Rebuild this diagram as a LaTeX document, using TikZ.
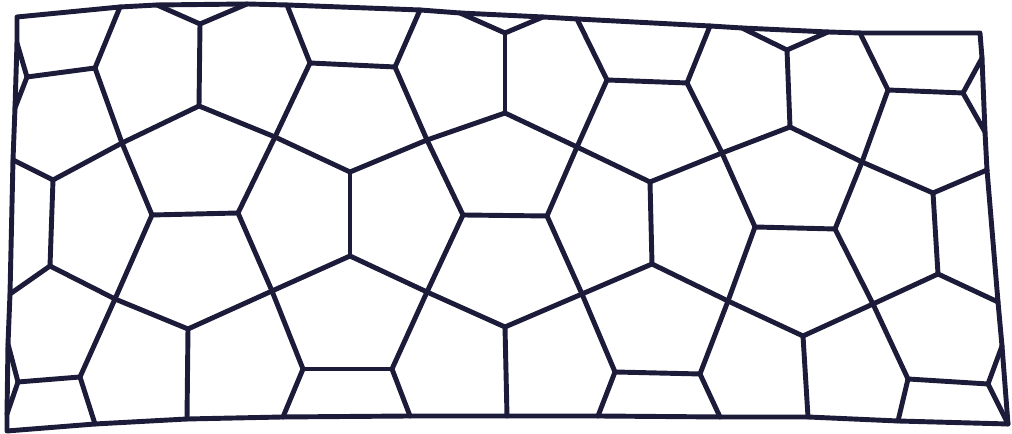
\documentclass[tikz,border=0pt]{standalone}
\usepackage{tikz}

\definecolor{ink}{RGB}{28,28,58}
\tikzset{edge/.style={ink,line width=1.4pt,line cap=round,line join=round}}

\begin{document}
\begin{tikzpicture}[x=0.1mm,y=-0.1mm]
\useasboundingbox (0,0) rectangle (1012,434);

% frame points
\foreach \n/\x/\y in {F1/17/17,t1/120/7,t2/157/5,t3/247/4,t4/287/5,t5/420/10,t6/460/13,
  t7/543/17,t8/577/19,t9/710/26,t10/742/28,t11/828/32,t12/860/33,F2/980/33,
  r1/982/58,r2/985/132,r3/987/170,r4/998/302,r5/1002/346,F3/1008/424,
  b1/898/421,b2/808/417,b3/720/417,b4/598/416,b5/507/416,b6/410/416,b7/283/417,
  b8/187/419,b9/95/424,F4/7/431,l6/7/414,l5/8/344,l4/10/294,l3/13/160,l2/15/108,l1/17/43}
  \coordinate (\n) at (\x,\y);

% inner vertices
\foreach \n/\x/\y in {a1/27/77,a2/95/68,a3/200/24,a4/310/63,a5/395/67,a6/505/33,
  a7/607/80,a8/687/83,a9/787/50,a10/888/90,a11/963/93,
  c1/122/143,c2/199/106,c3/275/137,c4/427/140,c5/505/113,c6/577/147,c7/722/153,
  c8/790/127,c9/862/162,
  d1/53/180,d2/350/172,d3/650/182,d4/933/193,
  e1/152/215,e2/238/213,e3/463/215,e4/547/216,e5/755/227,e6/835/229,
  g1/50/266,g2/350/256,g3/652/264,g4/938/274,
  h1/115/299,h2/188/329,h3/272/291,h4/427/292,h5/505/327,h6/582/294,h7/728/301,
  h8/803/336,h9/873/304,
  k1/18/382,k2/80/377,k3/303/369,k4/392/369,k5/615/372,k6/700/374,k7/908/379,k8/988/384}
  \coordinate (\n) at (\x,\y);

% frame
\draw[edge] (F1) -- (t1) -- (t2) -- (t3) -- (t4) -- (t5) -- (t6) -- (t7) -- (t8)
  -- (t9) -- (t10) -- (t11) -- (t12) -- (F2) -- (r1) -- (r2) -- (r3) -- (r4) -- (r5)
  -- (F3) -- (b1) -- (b2) -- (b3) -- (b4) -- (b5) -- (b6) -- (b7) -- (b8) -- (b9)
  -- (F4) -- (l6) -- (l5) -- (l4) -- (l3) -- (l2) -- (l1) -- cycle;

% upper half
\foreach \p/\q in {l1/a1,a1/l2,a1/a2,a2/t1,a2/c1,t2/a3,a3/t3,a3/c2,c1/c2,c2/c3,
  c1/d1,c1/e1,c3/a4,a4/t4,a4/a5,a5/t5,a5/c4,c3/d2,c3/e2,e1/e2,d1/l3,d1/g1,
  t6/a6,a6/t7,a6/c5,c4/c5,c5/c6,c4/d2,c4/e3,e3/e4,c6/e4,c6/a7,a7/t8,a7/a8,
  a8/t9,a8/c7,c6/d3,d3/c7,d2/g2,d3/g3,t10/a9,a9/t11,a9/c8,c7/c8,c8/c9,
  c9/a10,a10/t12,a10/a11,a11/r1,a11/r2,c9/d4,d4/r3,d4/g4,c9/e6,e6/e5,e5/c7}
  \draw[edge] (\p) -- (\q);

% lower half
\foreach \p/\q in {g1/l4,g1/h1,h1/e1,h1/k2,h1/h2,h2/h3,h2/b8,h3/e2,h3/g2,h3/k3,
  k2/k1,k2/b9,k1/l5,k1/l6,k3/k4,k3/b7,g2/h4,h4/e3,h4/k4,h4/h5,h5/h6,h5/b5,
  k4/b6,h6/e4,h6/g3,h6/k5,g3/h7,h7/e5,h7/k6,h7/h8,h8/h9,h8/b2,h9/e6,h9/g4,
  h9/k7,k5/k6,k5/b4,k6/b3,k7/k8,k7/b1,k8/r5,k8/F3,g4/r4}
  \draw[edge] (\p) -- (\q);
\end{tikzpicture}
\end{document}
